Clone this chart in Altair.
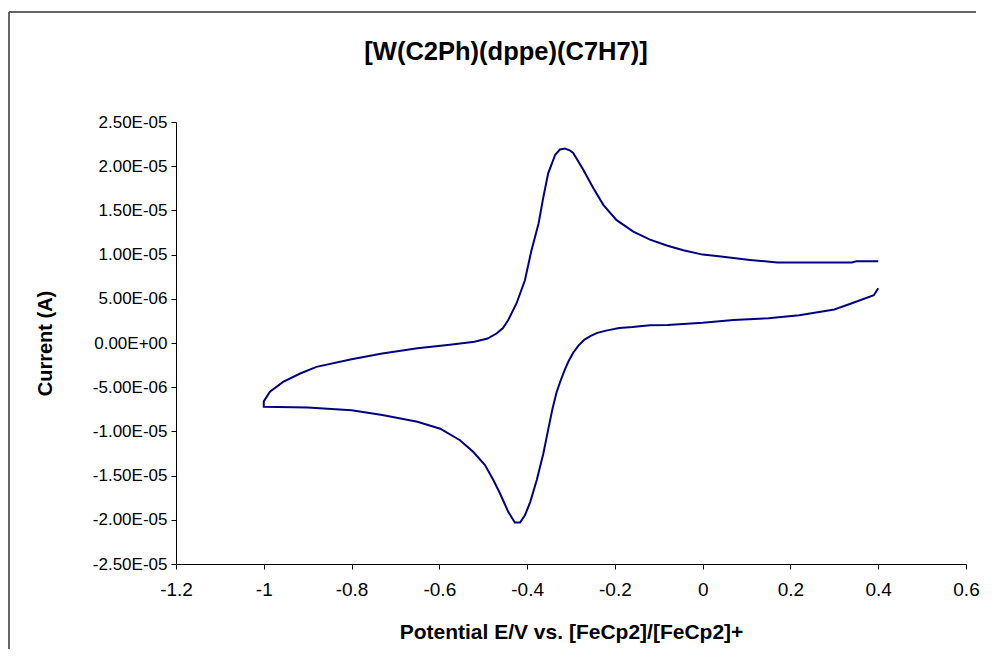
import json
import altair as alt
import pandas as pd

# Cyclic voltammogram: scan starts at +0.4 V, goes to -1.0 V and back to +0.4 V
potential = [
    0.40, 0.39, 0.34, 0.30, 0.22, 0.15, 0.07, 0.00, -0.08, -0.12,
    -0.16, -0.19, -0.22, -0.24, -0.255, -0.27, -0.283, -0.295, -0.305, -0.314,
    -0.324, -0.333, -0.342, -0.352, -0.363, -0.378, -0.393, -0.405, -0.416, -0.428,
    -0.443, -0.462, -0.477, -0.496, -0.523, -0.553, -0.598, -0.65, -0.73, -0.80,
    -0.90, -1.00,
    -1.00, -0.986, -0.956, -0.917, -0.88, -0.80, -0.73, -0.65, -0.576, -0.52,
    -0.49, -0.469, -0.455, -0.443, -0.424, -0.405, -0.390, -0.374, -0.363, -0.352,
    -0.336, -0.325, -0.314, -0.303, -0.295, -0.272, -0.249, -0.226, -0.196, -0.158,
    -0.12, -0.08, -0.044, 0.00, 0.032, 0.108, 0.17, 0.26, 0.34, 0.35, 0.40,
]
current = [
    6.2e-6, 5.4e-6, 4.5e-6, 3.8e-6, 3.15e-6, 2.8e-6, 2.6e-6, 2.3e-6, 2.05e-6, 2.0e-6,
    1.8e-6, 1.7e-6, 1.4e-6, 1.15e-6, 0.8e-6, 0.35e-6, -0.3e-6, -1.1e-6, -2.0e-6, -3.0e-6,
    -4.3e-6, -5.6e-6, -7.4e-6, -9.8e-6, -1.25e-5, -1.55e-5, -1.80e-5, -1.95e-5, -2.03e-5, -2.03e-5,
    -1.91e-5, -1.70e-5, -1.55e-5, -1.38e-5, -1.23e-5, -1.10e-5, -9.7e-6, -8.9e-6, -8.15e-6, -7.6e-6,
    -7.3e-6, -7.2e-6,
    -6.6e-6, -5.5e-6, -4.4e-6, -3.45e-6, -2.7e-6, -1.85e-6, -1.2e-6, -0.6e-6, -0.2e-6, 0.15e-6,
    0.5e-6, 1.1e-6, 1.7e-6, 2.6e-6, 4.5e-6, 7.1e-6, 1.05e-5, 1.35e-5, 1.65e-5, 1.92e-5,
    2.13e-5, 2.19e-5, 2.20e-5, 2.18e-5, 2.15e-5, 1.96e-5, 1.75e-5, 1.56e-5, 1.39e-5, 1.26e-5,
    1.17e-5, 1.10e-5, 1.05e-5, 1.0e-5, 9.85e-6, 9.4e-6, 9.1e-6, 9.1e-6, 9.1e-6, 9.25e-6, 9.25e-6,
]

x_ticks = [-1.2, -1.0, -0.8, -0.6, -0.4, -0.2, 0.0, 0.2, 0.4, 0.6]
x_tick_labels = ["-1.2", "-1", "-0.8", "-0.6", "-0.4", "-0.2", "0", "0.2", "0.4", "0.6"]
y_ticks = [2.5e-5, 2.0e-5, 1.5e-5, 1.0e-5, 5.0e-6, 0.0, -5.0e-6, -1.0e-5, -1.5e-5, -2.0e-5, -2.5e-5]
y_tick_labels = ["2.50E-05", "2.00E-05", "1.50E-05", "1.00E-05", "5.00E-06", "0.00E+00",
                 "-5.00E-06", "-1.00E-05", "-1.50E-05", "-2.00E-05", "-2.50E-05"]

title_text = "[W(C2Ph)(dppe)(C7H7)]"
x_title = "Potential E/V vs. [FeCp2]/[FeCp2]+"
y_title = "Current (A)"

df = pd.DataFrame({"i": list(range(len(potential))), "E": potential, "I": current})
title_df = pd.DataFrame({"t": [title_text]})

FONT = "Liberation Sans"
W, H = 790, 442


def lookup_expr(values, labels):
    return f"{json.dumps(labels)}[indexof({json.dumps(values)}, datum.value)]"


line = alt.Chart(df).mark_line(color="#000080", strokeWidth=2, interpolate="linear").encode(
    x=alt.X(
        "E:Q",
        scale=alt.Scale(domain=[-1.2, 0.6], nice=False, zero=False),
        axis=alt.Axis(
            values=x_ticks,
            labelExpr=lookup_expr(x_ticks, x_tick_labels),
            labelFontSize=19,
            labelPadding=11,
            labelFlush=False,
            title=x_title,
            titleFontSize=21,
            titleY=68,
            titleBaseline="middle",
        ),
    ),
    y=alt.Y(
        "I:Q",
        scale=alt.Scale(domain=[-2.5e-5, 2.5e-5], nice=False, zero=False),
        axis=alt.Axis(
            values=y_ticks,
            labelExpr=lookup_expr(y_ticks, y_tick_labels),
            labelFontSize=17,
            labelFlush=False,
            title=y_title,
            titleX=-131,
            titleY=H / 2,
            titleAngle=-90,
            titleAlign="center",
            titleBaseline="middle",
        ),
    ),
    order="i:O",
)

title_mark = alt.Chart(title_df).mark_text(
    font=FONT, fontSize=25.5, fontWeight="bold", color="#000000",
    align="center", baseline="middle",
).encode(text="t:N", x=alt.value(330), y=alt.value(-70))

frame_left = alt.Chart(title_df).mark_rule(color="#333333", strokeWidth=1.5).encode(
    x=alt.value(-167), y=alt.value(-110), y2=alt.value(545)
)
frame_top = alt.Chart(title_df).mark_rule(color="#333333", strokeWidth=1.5).encode(
    x=alt.value(-167), x2=alt.value(800), y=alt.value(-110)
)

chart = alt.layer(frame_left, frame_top, title_mark, line).properties(
    width=W,
    height=H,
    autosize=alt.AutoSizeParams(type="none"),
    padding={"left": 168, "top": 114, "right": 17, "bottom": 85},
).configure_view(stroke=None).configure_axis(
    grid=False,
    domainColor="#000000",
    domainWidth=1,
    tickColor="#000000",
    tickSize=5,
    tickWidth=1,
    labelFont=FONT,
    labelColor="#000000",
    labelPadding=4,
    titleFont=FONT,
    titleFontSize=20,
    titleFontWeight="bold",
    titleColor="#000000",
).configure_axisY(labelAlign="right")

chart.save("out.html", embed_options={"renderer": "svg", "actions": False})
